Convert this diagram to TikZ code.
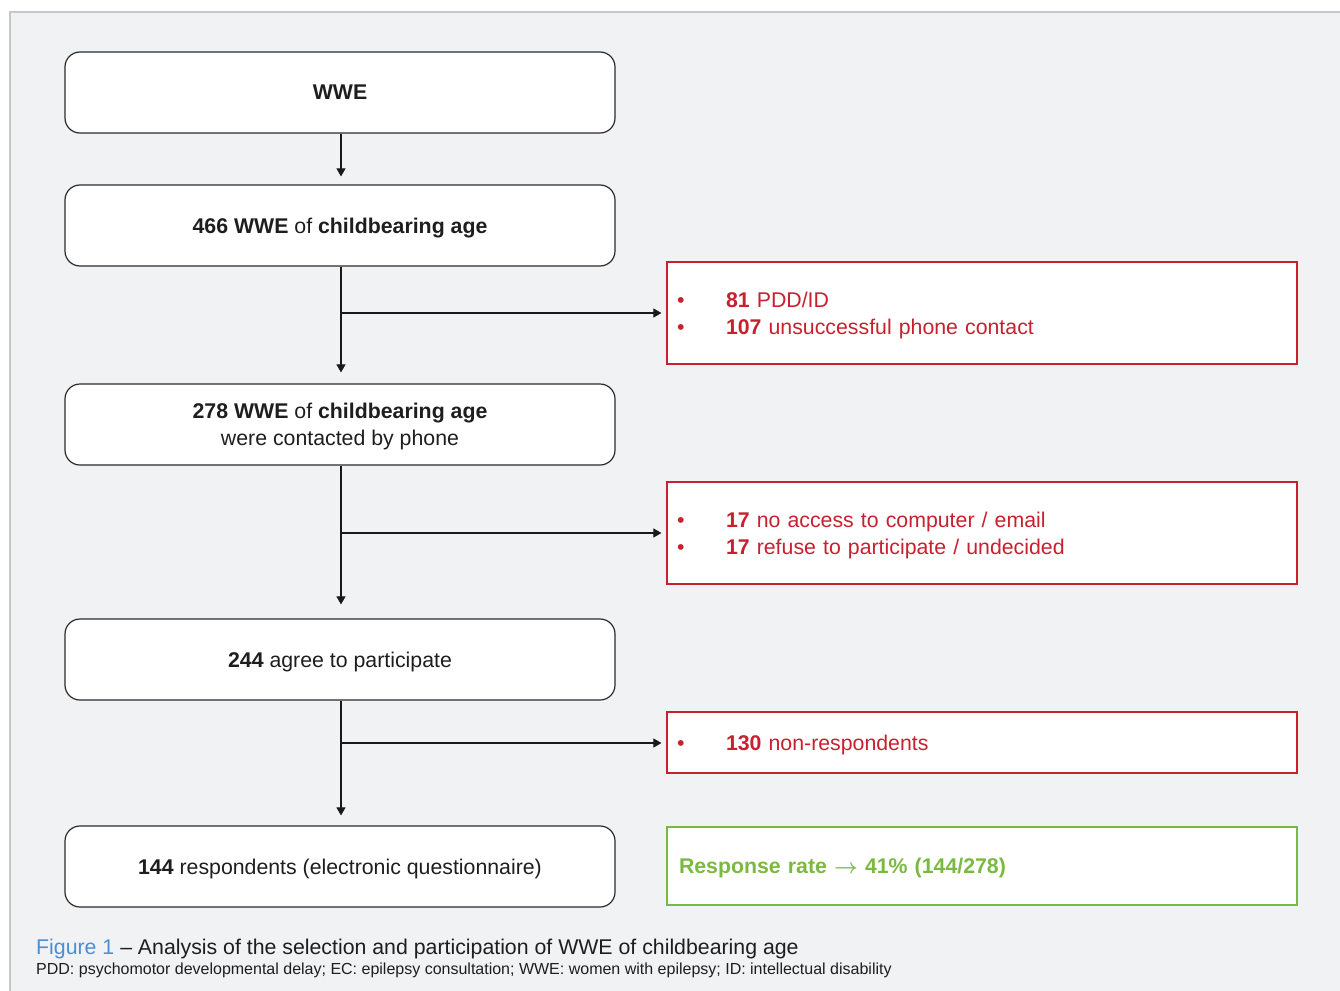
\documentclass[tikz,border=0pt]{standalone}
\usepackage{fontspec}
\setmainfont{Liberation Sans}
\usetikzlibrary{arrows.meta}
\definecolor{panelfill}{HTML}{F1F2F4}
\definecolor{panelline}{HTML}{C4C6C8}
\definecolor{boxline}{HTML}{2B2B2B}
\definecolor{txt}{HTML}{1E1E1E}
\definecolor{exred}{HTML}{C8202F}
\definecolor{okgreen}{HTML}{7BBA42}
\definecolor{figblue}{HTML}{4A8FD6}
\tikzset{
  flowbox/.style={draw=boxline, line width=1.2pt, fill=white, rounded corners=15pt,
    minimum width=550pt, minimum height=81pt, inner sep=0pt, align=center,
    text=txt, text depth=0pt, font=\fontsize{21.3}{27}\selectfont},
  exbox/.style={draw=exred, line width=1.2pt, fill=white, minimum width=630pt,
    inner xsep=10pt, inner ysep=0pt, text width=610pt, align=left, text=exred,
    font=\fontsize{21.3}{27}\selectfont},
  okbox/.style={draw=okgreen, line width=2.5pt, fill=white, minimum width=630pt,
    minimum height=78pt, inner xsep=12pt, text width=606pt, align=left, text=okgreen,
    text depth=0pt, font=\bfseries\fontsize{21.3}{27}\selectfont},
  conn/.style={draw=black!90, line width=1.1pt, -{Triangle[length=8pt,width=9pt]}},
  capt/.style={anchor=base west, inner sep=0pt, text=txt},
}
\newcommand{\bul}{\makebox[49pt][l]{•}}
\begin{document}
\begin{tikzpicture}[x=1pt,y=-1pt]
\useasboundingbox (0,0) rectangle (1340,990);
\fill[white] (0,0) rectangle (1340,990);
\draw[panelline, fill=panelfill, line width=1.5pt] (10,12) rectangle (1350,1000);

\node[flowbox] (b1) at (340,92.5) {\textbf{WWE}};
\node[flowbox] (b2) at (340,225.5) {\textbf{466 WWE} of \textbf{childbearing age}};
\node[flowbox] (b3) at (340,424.5) {\textbf{278 WWE} of \textbf{childbearing age}\\were contacted by phone};
\node[flowbox] (b4) at (340,659.5) {\textbf{244} agree to participate};
\node[flowbox] (b5) at (340,866.5) {\textbf{144} respondents (electronic questionnaire)};

\node[exbox, minimum height=102pt, text depth=27pt] (r1) at (982,313) {\bul\textbf{81} PDD/ID\\\bul\textbf{107} unsuccessful phone contact};
\node[exbox, minimum height=102pt, text depth=27pt] (r2) at (982,533) {\bul\textbf{17} no access to computer / email\\\bul\textbf{17} refuse to participate / undecided};
\node[exbox, minimum height=61pt, text depth=0pt] (r3) at (982,742.5) {\bul\textbf{130} non-respondents};
\node[okbox] (g1) at (982,866) {Response rate {\boldmath$\rightarrow$} 41\% (144/278)};

\coordinate (j1) at (341,313);
\coordinate (j2) at (341,533);
\coordinate (j3) at (341,743);

\draw[conn, shorten >=8pt] ([xshift=1pt]b1.south) -- ([xshift=1pt]b2.north);
\draw[conn, shorten >=11pt] ([xshift=1pt]b2.south) -- ([xshift=1pt]b3.north);
\draw[conn, shorten >=14pt] ([xshift=1pt]b3.south) -- ([xshift=1pt]b4.north);
\draw[conn, shorten >=10pt] ([xshift=1pt]b4.south) -- ([xshift=1pt]b5.north);
\draw[conn, shorten >=5pt] (j1) -- (j1 -| r1.west);
\draw[conn, shorten >=5pt] (j2) -- (j2 -| r2.west);
\draw[conn, shorten >=5pt] (j3) -- (j3 -| r3.west);

\node[capt, font=\fontsize{21.3}{25}\selectfont] (cap) at (36,954) {\textcolor{figblue}{Figure 1} – Analysis of the selection and participation of WWE of childbearing age};
\node[capt, font=\fontsize{16}{18}\selectfont] (foot) at (36,974) {PDD: psychomotor developmental delay; EC: epilepsy consultation; WWE: women with epilepsy; ID: intellectual disability};
\end{tikzpicture}
\end{document}
